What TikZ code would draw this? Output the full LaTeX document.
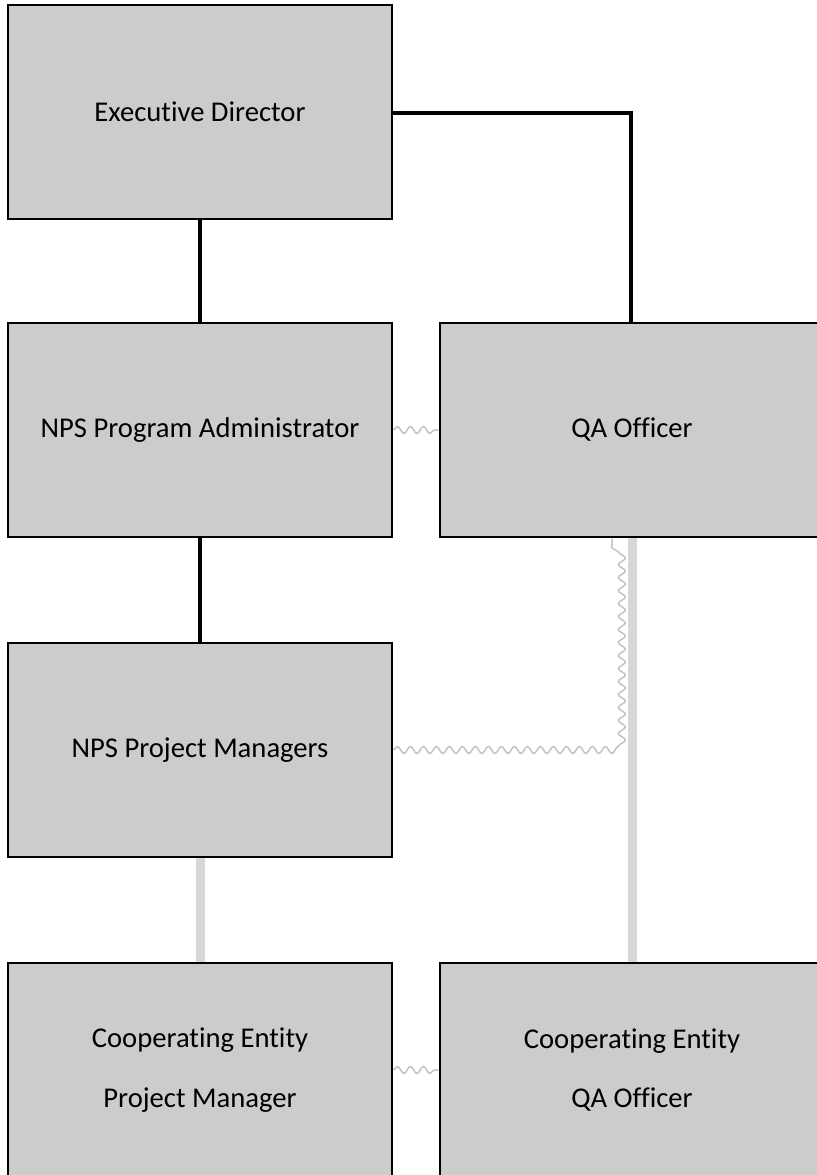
\documentclass[tikz,border=0pt]{standalone}
\usepackage{fontspec}
\setmainfont{Carlito}[Ligatures={NoCommon}]
\usepackage{tikz}
\usetikzlibrary{positioning,decorations.pathmorphing}
\definecolor{boxgray}{RGB}{204,204,204}
\definecolor{wavegray}{RGB}{195,195,195}
\definecolor{hatchgray}{RGB}{215,215,215}

\begin{document}
\begin{tikzpicture}[x=0.02cm, y=-0.02cm,
    role/.style={rectangle, draw=black, fill=boxgray, line width=0.055cm,
        minimum width=7.68cm, minimum height=4.28cm, align=center,
        font=\fontsize{16.3}{34}\selectfont},
    solidlink/.style={draw=black, line width=0.07cm},
    wavelink/.style={draw=wavegray, line width=0.03cm,
        decorate, decoration={snake, amplitude=0.07cm, segment length=0.26cm}},
    hatchlink/.style={draw=hatchgray, line width=0.18cm}
]

\clip (0,0) rectangle (817,1175);

% Boxes
\node[role] (ed) at (200, 112) {Executive Director};
\node[role] (pa) at (200, 430) {NPS Program Administrator};
\node[role] (qa) at (632, 430) {QA Officer};
\node[role] (pm) at (200, 750) {NPS Project Managers};
\node[role] (cepm) at (200, 1070) {Cooperating Entity\\Project Manager};
\node[role] (ceqa) at (632, 1070) {Cooperating Entity\\QA Officer};

% Reporting lines
\coordinate (edqa) at (631, 113);
\draw[solidlink] (ed.east |- edqa) -- (edqa) -- (edqa |- qa.north);
\draw[solidlink] (ed) -- (pa);
\draw[solidlink] (pa) -- (pm);

% Coordination (wavy)
\coordinate (pmqa) at (612, 750);
\draw[wavelink] (pa) -- (qa);
\draw[wavelink] (pm.east) -- (pmqa) -- (pmqa |- qa.south);
\draw[wavelink] (cepm) -- (ceqa);

% Oversight (hatched)
\draw[hatchlink] (qa.south) -- (ceqa.north);
\draw[hatchlink] (pm) -- (cepm);

\end{tikzpicture}
\end{document}
